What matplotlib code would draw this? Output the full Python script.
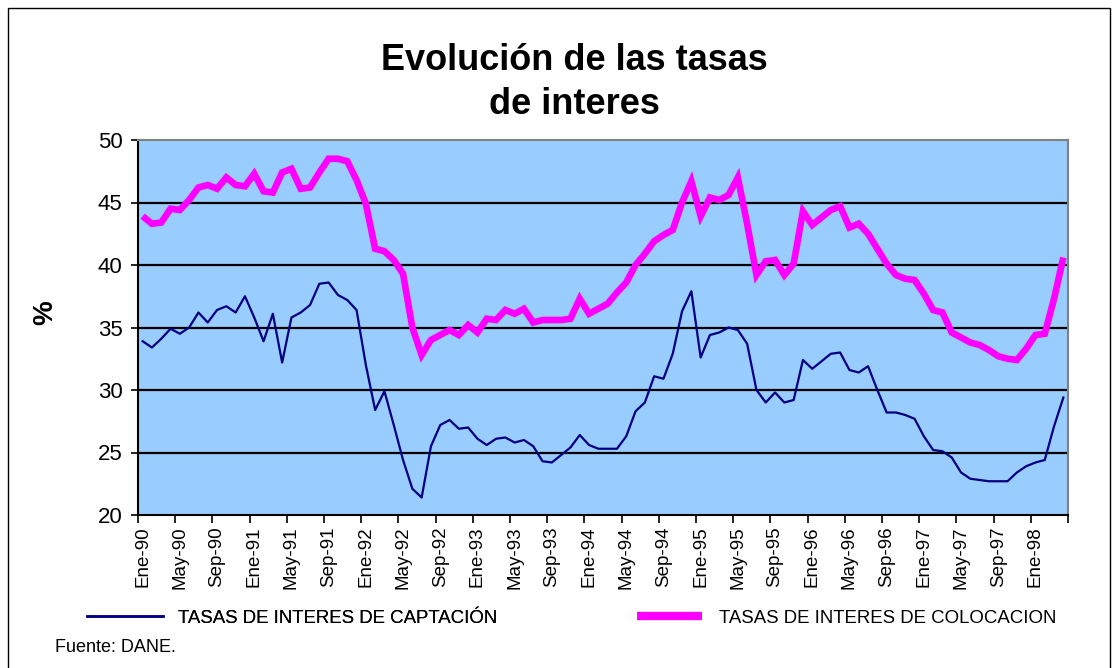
import numpy as np
import matplotlib.pyplot as plt
from matplotlib.lines import Line2D
from matplotlib.patches import Rectangle

# Monthly rates, Ene-90 .. Abr-98
captacion = [
    33.9, 33.4, 34.1, 34.9, 34.5, 35.0, 36.2, 35.4, 36.4, 36.7, 36.2, 37.5,
    35.8, 33.9, 36.1, 32.2, 35.8, 36.2, 36.8, 38.5, 38.6, 37.6, 37.2, 36.4,
    32.0, 28.4, 29.9, 27.2, 24.4, 22.1, 21.4, 25.5, 27.2, 27.6, 26.9, 27.0,
    26.1, 25.6, 26.1, 26.2, 25.8, 26.0, 25.5, 24.3, 24.2, 24.8, 25.4, 26.4,
    25.6, 25.3, 25.3, 25.3, 26.3, 28.3, 29.0, 31.1, 30.9, 32.9, 36.3, 37.9,
    32.6, 34.4, 34.6, 35.0, 34.8, 33.7, 30.0, 29.0, 29.8, 29.0, 29.2, 32.4,
    31.7, 32.3, 32.9, 33.0, 31.6, 31.4, 31.9, 30.0, 28.2, 28.2, 28.0, 27.7,
    26.3, 25.2, 25.1, 24.6, 23.4, 22.9, 22.8, 22.7, 22.7, 22.7, 23.4, 23.9,
    24.2, 24.4, 27.1, 29.4,
]
colocacion = [
    43.9, 43.3, 43.4, 44.5, 44.4, 45.2, 46.2, 46.4, 46.1, 47.0, 46.4, 46.3,
    47.3, 45.9, 45.8, 47.4, 47.7, 46.1, 46.2, 47.4, 48.5, 48.5, 48.3, 46.8,
    44.9, 41.3, 41.1, 40.4, 39.3, 35.0, 32.8, 34.0, 34.4, 34.8, 34.4, 35.2,
    34.6, 35.7, 35.6, 36.4, 36.1, 36.5, 35.4, 35.6, 35.6, 35.6, 35.7, 37.3,
    36.1, 36.5, 36.9, 37.8, 38.6, 40.0, 40.9, 41.9, 42.4, 42.8, 45.0, 46.7,
    43.9, 45.4, 45.2, 45.6, 47.0, 43.3, 39.2, 40.3, 40.4, 39.2, 40.1, 44.3,
    43.2, 43.8, 44.4, 44.7, 43.0, 43.3, 42.5, 41.3, 40.1, 39.2, 38.9, 38.8,
    37.7, 36.4, 36.2, 34.6, 34.2, 33.8, 33.6, 33.2, 32.7, 32.5, 32.4, 33.3,
    34.4, 34.5, 37.3, 40.6,
]
meses = ['Ene', 'Feb', 'Mar', 'Abr', 'May', 'Jun',
         'Jul', 'Ago', 'Sep', 'Oct', 'Nov', 'Dic']
anios = ['90', '91', '92', '93', '94', '95', '96', '97', '98']
categorias = [f'{m}-{a}' for a in anios for m in meses][:len(captacion)]

etiqueta_cap = 'TASAS DE INTERES DE CAPTACIÓN'
etiqueta_col = 'TASAS DE INTERES DE COLOCACION'

plt.rcParams['font.family'] = ['Liberation Sans', 'DejaVu Sans']

fig = plt.figure(figsize=(11.2, 6.68), dpi=100)
ax = fig.add_axes([138 / 1120, 153 / 668, 930 / 1120, 375 / 668])
ax.set_facecolor('#99CCFF')

x = np.arange(len(captacion))
ax.plot(x, captacion, color='#000080', lw=1.6, zorder=3)
ax.plot(x, colocacion, color='#FF00FF', lw=4.8, zorder=4,
        solid_joinstyle='miter', solid_capstyle='butt')

# axes, grid
ax.set_xlim(-0.5, len(x) - 0.5)
ax.set_ylim(20, 50)
ax.set_yticks(np.arange(20, 51, 5))
for y in range(25, 50, 5):
    ax.axhline(y, color='black', lw=1.6, zorder=2)
ax.tick_params(axis='y', direction='out', length=5, width=1.2,
               labelsize=16, pad=6)

ax.set_xticks(x[::4])
ax.set_xticklabels(categorias[::4], rotation=90, fontsize=13.5)
ax.set_xticks(np.arange(-0.5, len(x), 4), minor=True)
ax.tick_params(axis='x', which='major', length=0, pad=8)
ax.tick_params(axis='x', which='minor', direction='out', length=6, width=1.2)

for side in ['left', 'bottom']:
    ax.spines[side].set_color('black')
    ax.spines[side].set_linewidth(1.5)
for side in ['top', 'right']:
    ax.spines[side].set_color('#808080')
    ax.spines[side].set_linewidth(1.5)

# titles
fig.text(574 / 1120, 1 - 60 / 668, 'Evolución de las tasas',
         ha='center', va='center', fontsize=26, fontweight='bold')
fig.text(574 / 1120, 1 - 104 / 668, 'de interes',
         ha='center', va='center', fontsize=26, fontweight='bold')
fig.text(45 / 1120, 1 - 313 / 668, '%', rotation=90, ha='center',
         va='center', fontsize=20, fontweight='bold')

# legend
h1 = Line2D([], [], color='#000080', lw=1.8)
h2 = Line2D([], [], color='#FF00FF', lw=6, solid_capstyle='butt')
leg1 = fig.legend([h1], [etiqueta_cap], loc='center left',
                  bbox_to_anchor=(70 / 1120, 1 - 618 / 668), frameon=False,
                  fontsize=13.4, handlelength=4.1, handletextpad=0.8)
fig.legend([h2], [etiqueta_col], loc='center left',
           bbox_to_anchor=(620 / 1120, 1 - 618 / 668), frameon=False,
           fontsize=13.4, handlelength=3.5, handletextpad=0.9)
fig.add_artist(leg1)

fig.text(55 / 1120, 1 - 648 / 668, 'Fuente: DANE.', ha='left',
         va='center', fontsize=13)

# outer border
fig.add_artist(Rectangle((8 / 1120, -0.01), 1102 / 1120, 1 - 8 / 668 + 0.01,
                         transform=fig.transFigure, fill=False,
                         edgecolor='black', lw=1))

fig.savefig('out.png', dpi=100)
